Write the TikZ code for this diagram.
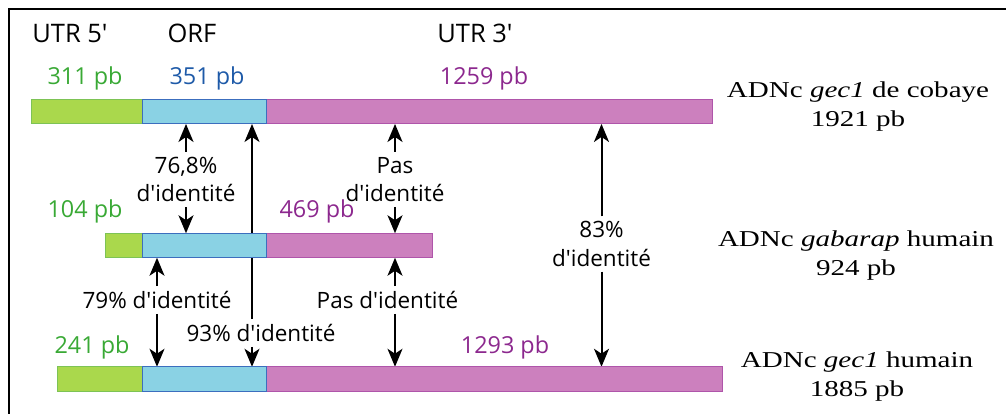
\documentclass[tikz,border=0pt]{standalone}
\usepackage{fontspec}
\setmainfont{Open Sans}
\newfontfamily\timesstretch[FakeStretch=1.28]{Liberation Serif}
\usetikzlibrary{arrows.meta,positioning}
\pgfdeclarelayer{back}
\pgfsetlayers{back,main}

\definecolor{utrgreen}{RGB}{170,216,76}
\definecolor{utrgreenline}{RGB}{125,195,85}
\definecolor{orfblue}{RGB}{138,210,228}
\definecolor{orfblueline}{RGB}{60,110,190}
\definecolor{utrpink}{RGB}{204,128,190}
\definecolor{utrpinkline}{RGB}{175,85,170}
\definecolor{txtgreen}{RGB}{57,169,53}
\definecolor{txtblue}{RGB}{30,90,168}
\definecolor{txtpurple}{RGB}{140,40,142}

\newcommand{\ap}{\textquotesingle}

\tikzset{
  seg/.style={draw, line width=1pt, minimum height=24.5pt, inner sep=0pt, outer sep=0pt, anchor=west},
  fivep/.style={seg, fill=utrgreen, draw=utrgreenline},
  orf/.style={seg, fill=orfblue, draw=orfblueline},
  threep/.style={seg, fill=utrpink, draw=utrpinkline},
  arr/.style={-{Stealth[length=18pt,width=15pt,inset=5pt]}, line width=2pt},
  ident/.style={font=\fontsize{22.5}{28.3}\selectfont, align=center, inner sep=5pt},
  head/.style={font=\fontsize{25.5}{30}\selectfont, anchor=base},
  len/.style={font=\fontsize{23.4}{28}\selectfont, anchor=base},
  cdna/.style={font=\timesstretch\fontsize{22.7}{29}\selectfont, align=center},
}

\begin{document}
\begin{tikzpicture}[x=1pt,y=-1pt]
  \useasboundingbox (0,0) rectangle (1006,414);
  \draw[line width=2pt] (9,414) -- (9,9) -- (1006,9);

  % headers
  \node[head] (h5) at (70,42.7) {UTR 5\ap};
  \node[head] (horf) at (192,42.7) {ORF};
  \node[head] (h3) at (475,42.7) {UTR 3\ap};

  % cobaye gec1
  \node[fivep, minimum width=111.3pt] (g1) at (31,111.7) {};
  \node[threep, minimum width=446pt] (t1) at (266.7,111.7) {};
  \node[orf, minimum width=124.4pt] (o1) at (142.3,111.7) {};
  \node[len, txtgreen] (l311) at (85,85) {311 pb};
  \node[len, txtblue] (l351) at (207,85) {351 pb};
  \node[len, txtpurple] (l1259) at (484,85) {1259 pb};

  % humain gabarap
  \node[fivep, minimum width=37.3pt] (g2) at (105,245.5) {};
  \node[threep, minimum width=166pt] (t2) at (266.7,245.5) {};
  \node[orf, minimum width=124.4pt] (o2) at (142.3,245.5) {};
  \node[len, txtgreen] (l104) at (85,218) {104 pb};
  \node[len, txtpurple] (l469) at (317,218) {469 pb};

  % humain gec1
  \node[fivep, minimum width=85.3pt] (g3) at (57,379) {};
  \node[threep, minimum width=456pt] (t3) at (266.7,379) {};
  \node[orf, minimum width=124.4pt] (o3) at (142.3,379) {};
  \node[len, txtgreen] (l241) at (92,353) {241 pb};
  \node[len, txtpurple] (l1293) at (505,353) {1293 pb};

  % names
  \node[cdna] (ncob) at (858,107) {ADNc \textit{gec1} de cobaye\\1921 pb};
  \node[cdna] (ngab) at (856,256) {ADNc \textit{gabarap} humain\\924 pb};
  \node[cdna] (nhum) at (857,376.5) {ADNc \textit{gec1} humain\\1885 pb};

  % identity labels
  \node[ident] (i768) at (186,179.4) {76,8\%\\d\ap identit\'e};
  \node[ident] (ipas1) at (395,179.4) {Pas\\d\ap identit\'e};
  \node[ident] (i79) at (157,300) {79\% d\ap identit\'e};
  \node[ident] (ipas2) at (387.5,300) {Pas d\ap identit\'e};
  \node[ident] (i93) at (261,333) {93\% d\ap identit\'e};
  \node[ident] (i83) at (601.5,244) {83\%\\d\ap identit\'e};
  \coordinate (k93) at (252,124);

  \begin{pgfonlayer}{back}
    \draw[arr] (i768.north) -- (i768.north |- o1.south);
    \draw[arr] (i768.south) -- (i768.south |- o2.north);
    \draw[arr] (ipas1.north) -- (ipas1.north |- t1.south);
    \draw[arr] (ipas1.south) -- (ipas1.south |- t2.north);
    \draw[arr] (i79.north) -- (i79.north |- o2.south);
    \draw[arr] (i79.south) -- (i79.south |- o3.north);
    \draw[arr] (ipas2.north -| ipas1) -- (t2.south -| ipas1);
    \draw[arr] (ipas2.south -| ipas1) -- (t3.north -| ipas1);
    \draw[arr] (k93 |- i93.north) -- (k93);
    \draw[arr] (k93 |- i93.south) -- (k93 |- o3.north);
    \draw[arr] (i83.north) -- (i83.north |- t1.south);
    \draw[arr] (i83.south) -- (i83.south |- t3.north);
  \end{pgfonlayer}
\end{tikzpicture}
\end{document}
